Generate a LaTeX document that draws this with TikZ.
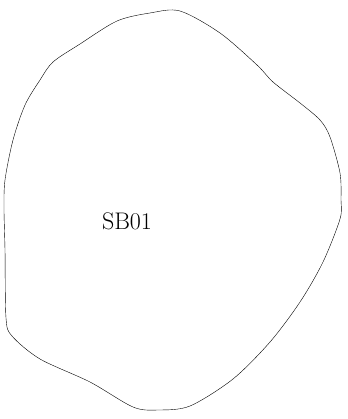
\documentclass[tikz,border=0pt]{standalone}
\usetikzlibrary{positioning}

\begin{document}
\begin{tikzpicture}[
        x=1pt, y=-1pt,
        outline/.style={draw, line width=1.1pt, black, smooth cycle, tension=0.5},
        regionlabel/.style={font=\fontsize{24}{28}\selectfont}
    ]
        \useasboundingbox (0,0) rectangle (347,419);
        \draw plot[outline] coordinates {
            (180,11) (220,33) (257,65) (273,82) (300,103) (320,120)
            (330,137) (340,173) (341,200) (340,219) (323,262) (300,302)
            (270,342) (233,379) (190,406) (158,410) (133,407) (90,382)
            (40,359) (12,336) (6,318) (5,250) (4,209) (5,180) (13,140)
            (25,105) (40,80) (53,62) (80,44) (117,21) (150,13)
        };
        \node[regionlabel] (sb01) at (127,221) {SB01};
    \end{tikzpicture}
\end{document}
